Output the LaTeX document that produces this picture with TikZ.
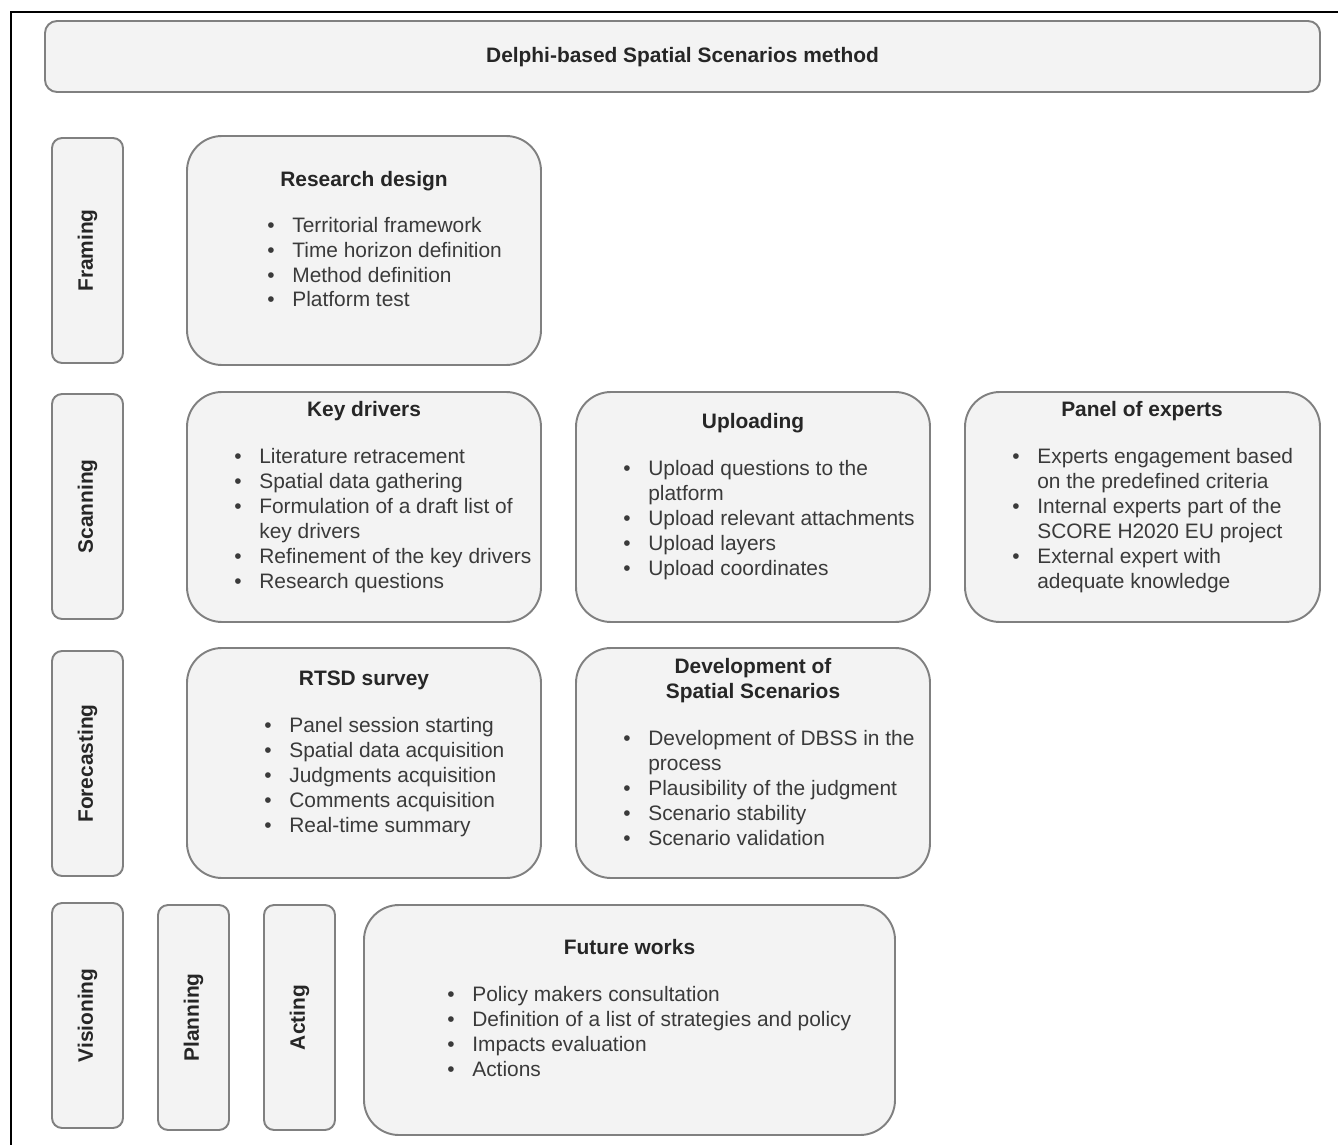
\documentclass[tikz,border=0pt]{standalone}
\usepackage{fontspec}
\setmainfont{Liberation Sans}
\usetikzlibrary{positioning, fit}
\definecolor{cLine}{HTML}{808080}
\definecolor{cFill}{HTML}{F3F3F3}
\definecolor{cTitle}{HTML}{262626}
\definecolor{cText}{HTML}{3A3A3A}
\newcommand{\boxfont}{\fontsize{11.9}{14.2}\selectfont}
\newlength{\bulw}\setlength{\bulw}{0.5cm}
\newcommand{\bul}{\makebox[\bulw][l]{\textbullet}}
\newcommand{\cont}{\hspace*{\bulw}}

\begin{document}
\begin{tikzpicture}[x=0.02cm, y=-0.02cm,
  card/.style={rectangle, rounded corners=0.7cm, draw=cLine, fill=cFill,
    line width=1.1pt, inner sep=0pt},
  stage/.style={rectangle, rounded corners=0.2cm, draw=cLine, fill=cFill,
    line width=1.1pt, rotate=90, minimum width=4.5cm, minimum height=1.42cm,
    font=\boxfont\bfseries, text=cTitle},
  ttl/.style={font=\boxfont\bfseries, text=cTitle, anchor=base,
    inner sep=0pt, align=center},
  items/.style={font=\boxfont, text=cText, anchor=base west,
    inner sep=0pt, align=left}
]
  \useasboundingbox (0,0) rectangle (1338,1145);
  \draw[line width=1.4pt] (11,1160) -- (11,12) -- (1350,12);

  % header
  \node[card, rounded corners=0.24cm, fit={(45,21) (1320,92)}] (head) {};
  \node[ttl] (headT) at (682.5,63) {Delphi-based Spatial Scenarios method};

  % stages
  \node[stage] (framing) at (87.5,250.5) {Framing};
  \node[stage] (scanning) at (87.5,506.5) {Scanning};
  \node[stage] (forecasting) at (87.5,763.5) {Forecasting};
  \node[stage] (visioning) at (87.5,1015.5) {Visioning};
  \node[stage] (planning) at (193.5,1017.5) {Planning};
  \node[stage] (acting) at (299.5,1017.5) {Acting};

  % framing (lists are placed by the baseline of their last line)
  \node[card, fit={(187,136) (541,365)}] (design) {};
  \node[ttl] (designT) at (364,187) {Research design};
  \node[items] (designL) at (267,307) {\bul Territorial framework\\
    \bul Time horizon definition\\ \bul Method definition\\ \bul Platform test};

  % scanning
  \node[card, fit={(187,392) (541,622)}] (drivers) {};
  \node[ttl] (driversT) at (364,416) {Key drivers};
  \node[items] (driversL) at (234,588) {\bul Literature retracement\\
    \bul Spatial data gathering\\ \bul Formulation of a draft list of\\
    \cont key drivers\\ \bul Refinement of the key drivers\\ \bul Research questions};

  \node[card, fit={(576,392) (930,622)}] (upload) {};
  \node[ttl] (uploadT) at (753,428) {Uploading};
  \node[items] (uploadL) at (623,575) {\bul Upload questions to the\\
    \cont platform\\ \bul Upload relevant attachments\\ \bul Upload layers\\
    \bul Upload coordinates};

  \node[card, fit={(965,392) (1320,622)}] (panel) {};
  \node[ttl] (panelT) at (1142,416) {Panel of experts};
  \node[items] (panelL) at (1012,588) {\bul Experts engagement based\\
    \cont on the predefined criteria\\ \bul Internal experts part of the\\
    \cont SCORE H2020 EU project\\ \bul External expert with\\
    \cont adequate knowledge};

  % forecasting
  \node[card, fit={(187,648) (541,878)}] (survey) {};
  \node[ttl] (surveyT) at (364,685) {RTSD survey};
  \node[items] (surveyL) at (264,832) {\bul Panel session starting\\
    \bul Spatial data acquisition\\ \bul Judgments acquisition\\
    \bul Comments acquisition\\ \bul Real-time summary};

  \node[card, fit={(576,648) (930,878)}] (devel) {};
  \node[ttl] (develT) at (753,698) {Development of\\Spatial Scenarios};
  \node[items] (develL) at (623,845) {\bul Development of DBSS in the\\
    \cont process\\ \bul Plausibility of the judgment\\ \bul Scenario stability\\
    \bul Scenario validation};

  % visioning, planning, acting
  \node[card, fit={(364,905) (895,1135)}] (future) {};
  \node[ttl] (futureT) at (629.5,954) {Future works};
  \node[items] (futureL) at (447,1076) {\bul Policy makers consultation\\
    \bul Definition of a list of strategies and policy\\
    \bul Impacts evaluation\\ \bul Actions};
\end{tikzpicture}
\end{document}
